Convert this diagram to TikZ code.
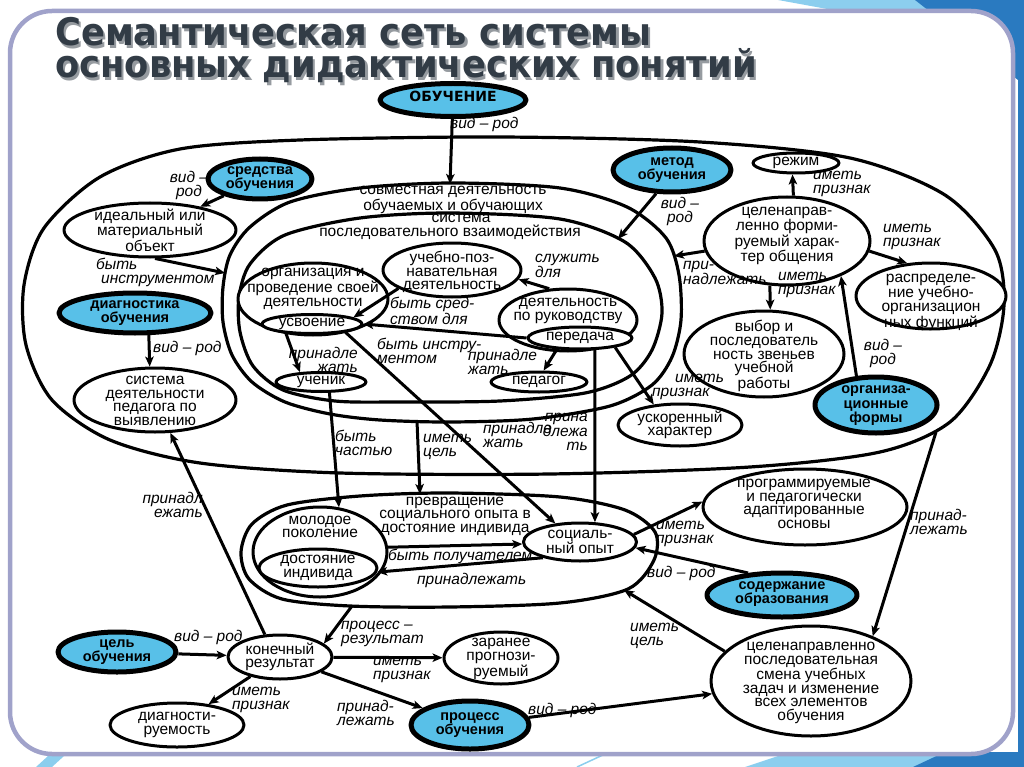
\documentclass[tikz,border=0pt]{standalone}
\usepackage{fontspec}
\setmainfont{Liberation Sans}
\newfontfamily\titlefont{DejaVu Sans}
\usetikzlibrary{shapes.geometric,arrows.meta}
\definecolor{nodeblue}{RGB}{88,192,232}
\definecolor{framec}{RGB}{160,162,202}
\definecolor{titlec}{RGB}{50,60,70}
\definecolor{shadowc}{RGB}{150,155,160}
\definecolor{lblue}{RGB}{140,206,238}
\definecolor{dblue}{RGB}{42,122,192}
\newcommand{\shadowtitle}[1]{\scalebox{0.93}[1]{\rlap{\textcolor{shadowc}{\raisebox{-2.5pt}{\hspace{2.5pt}#1}}}\textcolor{titlec}{#1}}}
\begin{document}
\begin{tikzpicture}[x=1pt,y=-1pt,line join=round,
  wn/.style={ellipse,draw,line width=3pt,fill=white,inner sep=0pt},
  bn/.style={ellipse,draw,line width=5pt,fill=nodeblue,inner sep=0pt},
  tx/.style={align=center,inner sep=0pt,font=\fontsize{15.5}{13.6}\selectfont},
  btx/.style={align=center,inner sep=0pt,font=\fontsize{14.5}{14.5}\selectfont\bfseries},
  lbl/.style={align=left,inner sep=0pt,font=\fontsize{15.5}{14}\selectfont\itshape},
  arr/.style={line width=3pt,-{Stealth[length=10pt,width=8.5pt,inset=2.5pt]}},
  cont/.style={line width=3.2pt},
  ttl/.style={inner sep=0pt,anchor=base west,font=\titlefont\bfseries\fontsize{38}{38}\selectfont}]
\useasboundingbox (0,0) rectangle (1024,767);
% decorations
\fill[lblue] (778,0) -- (1024,0) -- (1024,45) -- cycle;
\fill[dblue] (915,0) -- (1024,0) -- (1024,767) -- (1018,767) -- (1018,80) -- cycle;
\fill[lblue] (745,767) -- (790,752) -- (1024,752) -- (1024,767) -- cycle;
\fill[dblue] (913,767) -- (945,752) -- (1024,752) -- (1024,767) -- cycle;
\draw[lblue,line width=1.5pt] (577,767) -- (605,754);
\fill[lblue] (36,767) -- (48,756) -- (64,756) -- (52,767) -- cycle;
% frame
\draw[framec,line width=4.5pt,fill=white,rounded corners=42pt] (10,11) rectangle (1013,754);
% title
\node[ttl] (t1) at (55,46) {\shadowtitle{Семантическая сеть системы}};
\node[ttl] (t2) at (55,78) {\shadowtitle{основных дидактических понятий}};
% containers
\draw[cont] plot[smooth cycle] coordinates {(180,149) (300,140) (500,137) (700,142) (850,158) (945,195) (995,250) (1004,305) (990,365) (950,422) (880,452) (750,467) (550,474) (340,473) (200,463) (110,440) (52,400) (26,345) (24,285) (44,228) (100,177)};
\draw[cont] plot[smooth cycle] coordinates {(452,183) (560,188) (627,207) (666,238) (679,275) (681,320) (672,357) (652,385) (610,406) (533,419) (450,422) (380,420) (330,414) (285,402) (252,382) (232,355) (223,322) (223,287) (230,255) (250,227) (290,202) (360,188)};
\draw[cont] plot[smooth cycle] coordinates {(450,213) (560,219) (625,242) (655,278) (662,313) (652,350) (630,376) (585,393) (500,401) (400,402) (335,401) (283,390) (253,366) (240,332) (239,297) (250,264) (285,235) (360,218)};
\draw[cont] plot[smooth cycle] coordinates {(448,493) (560,497) (625,510) (655,532) (654,560) (628,589) (560,603) (450,607) (350,606) (282,599) (249,579) (241,552) (252,524) (287,505) (360,496)};
\coordinate (E2top) at (450,184);
\coordinate (E2left) at (225,273);
\coordinate (E2right) at (674,256);
\coordinate (E2bot) at (417,421);
\coordinate (E3ne) at (618,239);
\coordinate (E4top) at (420,494);
\coordinate (E4bot) at (352,606);
\coordinate (E4se) at (624,590);
\coordinate (e1se) at (936,432);
\node[tx] (e2t) at (453,200) {совместная деятельность\\обучаемых и обучающих};
\node[tx] (e3t) at (450,227) {\hspace*{22pt}система\\последовательного взаимодействия};
\node[tx] (e4t) at (455,516) {превращение\\социального опыта в\\достояние индивида};
% blue nodes
\node[bn,minimum width=146pt,minimum height=33pt] (obuch) at (453,100) {};
\node[inner sep=0pt,font=\titlefont\bfseries\fontsize{14}{14}\selectfont] (obucht) at (453,96) {ОБУЧЕНИЕ};
\node[bn,minimum width=104pt,minimum height=40pt] (sredstva) at (260,179) {};
\node[btx] (sredstvat) at (260,179) {средства\\обучения};
\node[bn,minimum width=152pt,minimum height=40pt] (diag) at (135,313) {};
\node[btx] (diagt) at (135,313) {диагностика\\обучения};
\node[bn,minimum width=118pt,minimum height=44pt] (metod) at (672,170) {};
\node[btx] (metodt) at (672,170) {метод\\обучения};
\node[bn,minimum width=122pt,minimum height=56pt] (orgform) at (876,405) {};
\node[btx] (orgformt) at (876,406) {организа-\\ционные\\формы};
\node[bn,minimum width=150pt,minimum height=44pt] (soderzh) at (782,595) {};
\node[btx] (soderzht) at (782,594) {содержание\\образования};
\node[bn,minimum width=118pt,minimum height=40pt] (cel) at (117,652) {};
\node[btx] (celt) at (117,652) {цель\\обучения};
\node[bn,minimum width=118pt,minimum height=48pt] (process) at (470,725) {};
\node[btx] (processt) at (470,725) {процесс\\обучения};
% white nodes
\node[wn,minimum width=172pt,minimum height=54pt] (ideal) at (150,230) {};
\node[tx] (idealt) at (150,230) {идеальный или\\материальный\\объект};
\node[wn,minimum width=162pt,minimum height=64pt] (sistdeyat) at (155,400) {};
\node[tx] (sistdeyatt) at (155,401) {система\\деятельности\\педагога по\\выявлению};
\node[wn,minimum width=86pt,minimum height=20pt] (rezhim) at (796,163) {};
\node[tx] (rezhimt) at (796,163) {режим};
\node[wn,minimum width=166pt,minimum height=88pt] (celform) at (787,241) {};
\node[tx] (celformt) at (787,236) {целенаправ-\\ленно форми-\\руемый харак-\\тер общения};
\node[wn,minimum width=150pt,minimum height=66pt] (raspr) at (931,296) {};
\node[tx] (usprt) at (931,302) {распределе-\\ние учебно-\\организацион\\ных функций};
\node[wn,minimum width=160pt,minimum height=86pt] (vybor) at (764,354) {};
\node[tx] (vybort) at (764,356) {выбор и\\последователь\\ность звеньев\\учебной\\работы};
\node[wn,minimum width=124pt,minimum height=42pt] (uskor) at (680,425) {};
\node[tx] (uskort) at (680,425) {ускоренный\\характер};
\node[wn,minimum width=150pt,minimum height=72pt] (organiz) at (313,299) {};
\node[tx] (organizt) at (313,289) {организация и\\проведение своей\\деятельности};
\node[wn,minimum width=100pt,minimum height=19pt] (usvoen) at (312,324) {};
\node[tx] (usvoent) at (312,324) {усвоение};
\node[wn,minimum width=138pt,minimum height=54pt] (uchpoz) at (452,270) {};
\node[tx] (uchpozt) at (452,272) {учебно-поз-\\навательная\\деятельность};
\node[wn,minimum width=138pt,minimum height=62pt] (rukov) at (568,320) {};
\node[tx] (rukovt) at (568,311) {деятельность\\по руководству};
\node[wn,minimum width=104pt,minimum height=22pt] (peredacha) at (580,338) {};
\node[tx] (peredachat) at (580,338) {передача};
\node[wn,minimum width=90pt,minimum height=19pt] (uchenik) at (321,382) {};
\node[tx] (uchenikt) at (321,382) {ученик};
\node[wn,minimum width=96pt,minimum height=20pt] (pedagog) at (539,382) {};
\node[tx] (pedagogt) at (539,382) {педагог};
\node[wn,minimum width=134pt,minimum height=90pt] (molod) at (320,552) {};
\node[tx] (molodt) at (320,527) {молодое\\поколение};
\node[wn,minimum width=118pt,minimum height=38pt] (dostoyan) at (318,568) {};
\node[tx] (dostoyant) at (318,568) {достояние\\индивида};
\node[wn,minimum width=113pt,minimum height=38pt] (socop) at (580,542) {};
\node[tx] (socopt) at (580,542) {социаль-\\ный опыт};
\node[wn,minimum width=204pt,minimum height=76pt] (program) at (805,507) {};
\node[tx] (programt) at (804,504) {программируемые\\и педагогически\\адаптированные\\основы};
\node[wn,minimum width=104pt,minimum height=44pt] (konech) at (280,657) {};
\node[tx] (konecht) at (280,657) {конечный\\результат};
\node[wn,minimum width=114pt,minimum height=52pt] (zaranee) at (501,658) {};
\node[tx] (zaraneet) at (501,659) {заранее\\прогнози-\\руемый};
\node[wn,minimum width=134pt,minimum height=44pt] (diagnost) at (177,725) {};
\node[tx] (diagnostt) at (177,725) {диагности-\\руемость};
\node[wn,minimum width=200pt,minimum height=110pt] (celposl) at (811,681) {};
\node[tx] (celposlt) at (811,683) {целенаправленно\\последовательная\\смена учебных\\задач и изменение\\всех элементов\\обучения};
% connectors
\draw[arr] (obuch) -- (E2top);
\draw[arr] (sredstva) -- (ideal);
\draw[arr] (ideal.-80) -- (E2left);
\draw[arr] (diag.-58) -- (sistdeyat.99);
\draw[arr] (konech.124) -- (sistdeyat.-65);
\draw[arr] (cel) -- (konech);
\draw[arr] (E4bot) -- (konech.17);
\draw[arr] (konech) -- (zaranee);
\draw[arr] (konech) -- (process);
\draw[arr] (konech) -- (diagnost);
\draw[arr] (process) -- (celposl);
\draw[arr] (celposl.161) -- (E4se);
\draw[arr] (e1se) -- (celposl.36);
\draw[arr] (soderzh.147) -- (socop.-6);
\draw[arr] (socop.8) -- (program.177);
\draw[arr] (molod.4) -- (socop.182);
\draw[arr] (socop.203) -- (dostoyan.-4);
\draw[arr] (E2bot) -- (E4top);
\draw[arr] (uchenik.-52) -- (molod.67);
\draw[arr] (usvoen.-14) -- (socop.143);
\draw[arr] (peredacha.west) -- (usvoen.east);
\draw[arr] (uchpoz.199) -- (usvoen.9);
\draw[arr] (rukov.121) -- (uchpoz.-8);
\draw[arr] (usvoen.200) -- (uchenik.155);
\draw[arr] (peredacha.206) -- (pedagog.68);
\draw[arr] (peredacha.-39) -- (socop.53);
\draw[arr] (peredacha.-15) -- (uskor.142);
\draw[arr] (metod.236) -- (E3ne);
\draw[arr] (celform.82) -- (rezhim.-107);
\draw[arr] (celform.187) -- (E2right);
\draw[arr] (celform.-111) -- (vybor.82);
\draw[arr] (celform.-7) -- (raspr.126);
\draw[arr] (orgform.124) -- (celform.-33);
% labels
\node[lbl,anchor=west] (l1) at (450,124) {вид – род};
\node[lbl,align=center] (l2) at (189,185) {вид –\\род};
\node[lbl,anchor=west] (l3) at (96,272) {быть\\\hspace*{5pt}инструментом};
\node[lbl,anchor=west] (l4) at (153,348) {вид – род};
\node[lbl,anchor=east,align=right] (l5) at (203,505) {принадл\\ежать};
\node[lbl,anchor=west] (l6) at (174,637) {вид – род};
\node[lbl,anchor=west] (l7) at (341,634) {процесс –\\результат};
\node[lbl,anchor=west] (l8) at (373,670) {иметь\\признак};
\node[lbl,anchor=west] (l9) at (337,713) {принад-\\лежать};
\node[lbl,anchor=west] (l10) at (232,700) {иметь\\признак};
\node[lbl,anchor=west] (l11) at (528,710) {вид – род};
\node[lbl,anchor=west] (l12) at (630,636) {иметь\\цель};
\node[lbl,anchor=west] (l13) at (910,522) {принад-\\лежать};
\node[lbl,anchor=west] (l14) at (647,573) {вид – род};
\node[lbl,anchor=west] (l15) at (656,534) {иметь\\признак};
\node[lbl,anchor=west] (l16) at (388,556) {быть получателем};
\node[lbl,anchor=west] (l17) at (417,580) {принадлежать};
\node[lbl,anchor=west] (l18) at (423,447) {иметь\\цель};
\node[lbl,anchor=west] (l19) at (335,443) {быть\\частью};
\node[lbl,anchor=west] (l20) at (377,351) {быть инстру-\\ментом};
\node[lbl,anchor=west] (l21) at (483,435) {принадле\\жать};
\node[lbl,anchor=east,align=right] (l22) at (588,432) {прина\\длежа\\ть};
\node[lbl,anchor=west] (l23) at (652,387) {\hspace*{23pt}иметь\\признак};
\node[lbl,anchor=east,align=right] (l24) at (358,360) {принадле\\жать};
\node[lbl,anchor=west] (l25) at (468,362) {принадле\\жать};
\node[lbl,anchor=west] (l26) at (390,311) {быть сред-\\ством для};
\node[lbl,anchor=west] (l27) at (535,266) {служить\\для};
\node[lbl,align=center] (l28) at (680,211) {вид –\\род};
\node[lbl,anchor=west] (l29) at (683,273) {при-\\надлежать};
\node[lbl,anchor=west] (l30) at (813,184) {иметь\\признак};
\node[lbl,anchor=west] (l31) at (778,285) {иметь\\признак};
\node[lbl,anchor=west] (l32) at (883,237) {иметь\\признак};
\node[lbl,align=center] (l33) at (883,353) {вид –\\род};
\end{tikzpicture}
\end{document}
